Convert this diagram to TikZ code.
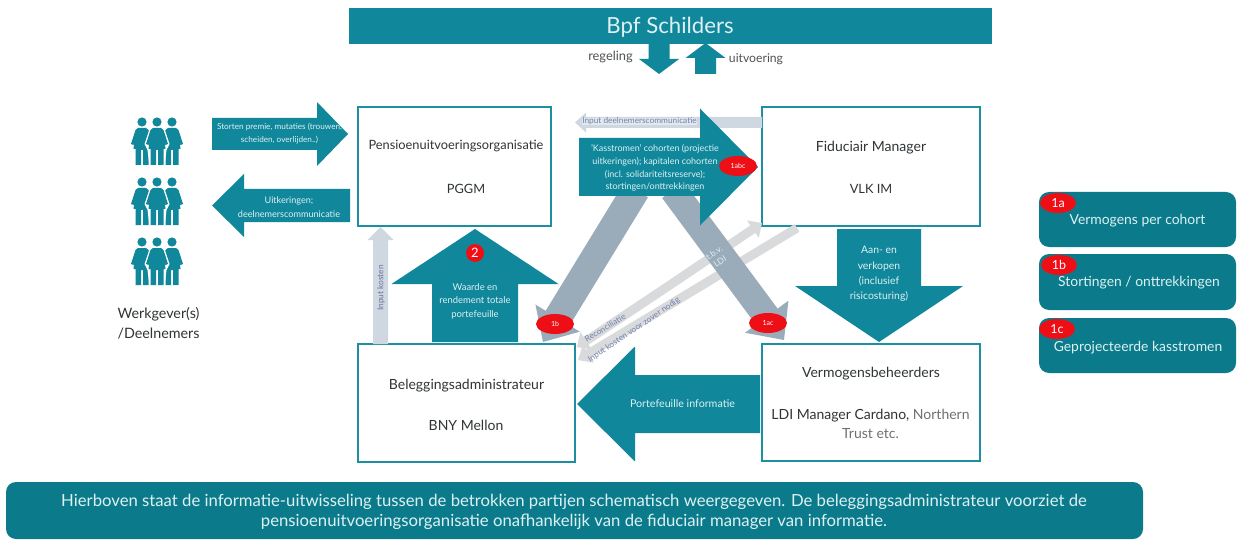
\documentclass[tikz,border=0pt]{standalone}
\usepackage{fontspec}
\setmainfont{Lato}
\usetikzlibrary{calc,shapes.geometric}
\definecolor{tealb}{HTML}{10879B}
\definecolor{tealr}{HTML}{0B7B8C}
\definecolor{boxline}{HTML}{1C8FA3}
\definecolor{greyb}{HTML}{9AACB9}
\definecolor{greyl}{HTML}{D9DADB}
\definecolor{greyc}{HTML}{CFD8E0}
\definecolor{labelblue}{HTML}{7380AE}
\definecolor{paletxt}{HTML}{DDF1F3}
\definecolor{darktxt}{HTML}{2F3436}
\definecolor{redb}{HTML}{EE0F16}
\newcommand{\blockarrow}[6]{%
  \coordinate (ba-neck) at ($(#2)!#5pt!(#1)$);
  \fill[#6] ($(#1)!#3pt!90:(#2)$) -- ($(ba-neck)!#3pt!90:(#2)$) -- ($(ba-neck)!#4pt!90:(#2)$) -- (#2)
    -- ($(ba-neck)!#4pt!-90:(#2)$) -- ($(ba-neck)!#3pt!-90:(#2)$) -- ($(#1)!#3pt!-90:(#2)$) -- cycle;
}
\tikzset{
  box/.style={draw=boxline,line width=1.8pt,fill=white,inner sep=0pt},
  boxtxt/.style={text=darktxt,font=\fontsize{14}{18}\selectfont,align=center,inner sep=0pt},
  arrowtxt/.style={text=paletxt,font=\fontsize{9.4}{13.5}\selectfont,align=center,inner sep=0pt},
  smalltxt/.style={text=paletxt,font=\fontsize{8.2}{13}\selectfont,align=center,inner sep=0pt},
  greytxt/.style={text=labelblue,font=\fontsize{8.3}{9}\selectfont,inner sep=0pt},
  redmark/.style={ellipse,fill=redb,inner sep=0pt,text=white,minimum width=38pt,minimum height=20pt,font=\fontsize{7}{8}\selectfont},
  redlegend/.style={ellipse,fill=redb,inner sep=0pt,text=white,minimum width=36pt,minimum height=20pt,font=\fontsize{12.5}{14}\selectfont},
  legend/.style={fill=tealr,rounded corners=10pt,inner sep=0pt,minimum width=197pt},
  legendtxt/.style={text=paletxt,font=\fontsize{13.9}{15}\selectfont,inner sep=0pt},
  woman/.pic={
    \fill (0,0) circle (4.6);
    \fill (-4,6) -- (4,6) -- (6.5,8) -- (11,22) -- (8.5,23) -- (7.5,18) -- (8.5,27) -- (6.5,27) -- (6.5,43) -- (1,43) -- (1,28) -- (-1,28) -- (-1,43) -- (-6.5,43) -- (-6.5,27) -- (-8.5,27) -- (-7.5,18) -- (-8.5,23) -- (-11,22) -- (-6.5,8) -- cycle;
  },
  womanfront/.pic={
    \fill[white] (-5,5) -- (5,5) -- (7.5,7) -- (12.5,22) -- (9.5,28) -- (7.5,44) -- (-7.5,44) -- (-9.5,28) -- (-12.5,22) -- (-7.5,7) -- cycle;
    \pic[tealb] {woman};
  },
}
\begin{document}
\begin{tikzpicture}[x=1pt,y=-1pt]
\useasboundingbox (0,0) rectangle (1247,540);
\fill[white] (0,0) rectangle (1247,540);

% top bar
\node[fill=tealb,minimum width=643pt,minimum height=36pt,inner sep=0pt] (bpf) at (670.5,26) {};
\node[text=paletxt,font=\fontsize{22.2}{24}\selectfont,inner sep=0pt] (bpft) at (670,27.5) {Bpf Schilders};
\coordinate (regA) at (659,44); \coordinate (regB) at (659,74);
\blockarrow{regA}{regB}{10.5}{20}{15}{tealb}
\coordinate (uitA) at (705.5,74); \coordinate (uitB) at (705.5,43);
\blockarrow{uitA}{uitB}{10.5}{20}{15}{tealb}
\node[text=darktxt!85,font=\fontsize{12.8}{14}\selectfont,inner sep=0pt] (reg) at (610.5,57) {regeling};
\node[text=darktxt!85,font=\fontsize{12.2}{14}\selectfont,inner sep=0pt] (uit) at (756,59) {uitvoering};

% boxes
\node[box,minimum width=193pt,minimum height=119pt] (pgo) at (454.5,166.5) {};
\node[box,minimum width=218pt,minimum height=119pt] (fid) at (871,166.5) {};
\node[box,minimum width=217pt,minimum height=118pt] (bel) at (466.5,403) {};
\node[box,minimum width=218pt,minimum height=117pt] (ver) at (871,402.5) {};
\node[boxtxt,font=\fontsize{12.8}{18}\selectfont] (pgot) at (456,145.5) {Pensioenuitvoeringsorganisatie};
\node[boxtxt,font=\fontsize{12.8}{18}\selectfont] (pgoc) at (466,189) {PGGM};
\node[boxtxt] (fidt) at (871,148) {Fiduciair Manager};
\node[boxtxt,font=\fontsize{12.8}{18}\selectfont] (fidc) at (871,188.5) {VLK IM};
\node[boxtxt] (belt) at (466.5,386) {Beleggingsadministrateur};
\node[boxtxt] (belc) at (466,425.5) {BNY Mellon};
\node[boxtxt] (vert) at (871,374) {Vermogensbeheerders};
\node[boxtxt,font=\fontsize{14}{19}\selectfont] (verc) at (870.5,424) {LDI Manager Cardano, \textcolor{darktxt!70}{Northern}\\\textcolor{darktxt!70}{Trust etc.}};

% light arrows (behind)
\coordinate (inpA) at (762,122.5); \coordinate (inpB) at (575,122.5);
\blockarrow{inpA}{inpB}{5.5}{10}{11}{greyc}
\coordinate (ikA) at (380.5,344); \coordinate (ikB) at (380.5,227);
\blockarrow{ikA}{ikB}{7.5}{13}{13}{greyc}
\coordinate (recM) at (670,285); \coordinate (recA) at (577,347); \coordinate (recB) at (762,223);
\blockarrow{recM}{recA}{4.5}{10.5}{11}{greyl}
\blockarrow{recM}{recB}{4.5}{10.5}{11}{greyl}
\coordinate (kosA) at (797,228); \coordinate (kosB) at (578,360);
\blockarrow{kosA}{kosB}{4.5}{10.5}{12}{greyl}

% grey arrows
\coordinate (g1A) at (636,190); \coordinate (g1B) at (543,342);
\blockarrow{g1A}{g1B}{14}{26}{28}{greyb}
\coordinate (g2A) at (673,190); \coordinate (g2B) at (784,340);
\blockarrow{g2A}{g2B}{13.5}{27}{29}{greyb}

% teal arrows
\coordinate (kasA) at (579,167); \coordinate (kasB) at (758,167);
\blockarrow{kasA}{kasB}{29}{58.5}{58}{tealb}
\coordinate (stA) at (212,134); \coordinate (stB) at (348,134);
\blockarrow{stA}{stB}{16}{32}{31}{tealb}
\coordinate (uiA) at (350,205.5); \coordinate (uiB) at (212,205.5);
\blockarrow{uiA}{uiB}{16.5}{31.5}{32}{tealb}
\coordinate (waA) at (475,342); \coordinate (waB) at (475,229);
\blockarrow{waA}{waB}{43}{83.5}{55}{tealb}
\coordinate (aaA) at (879,229); \coordinate (aaB) at (879,342);
\blockarrow{aaA}{aaB}{42}{84}{56}{tealb}
\coordinate (poA) at (760,404); \coordinate (poB) at (577,404);
\blockarrow{poA}{poB}{29}{57.5}{58}{tealb}

% arrow labels
\node[greytxt,fill=greyc!60] (inpt) at (639.5,121.5) {Input deelnemerscommunicatie};
\node[greytxt,rotate=90,text=labelblue!90!black] (ikt) at (381,288) {Input kosten};
\node[greytxt,rotate=31] (rect) at (605,328) {Reconciliatie};
\node[greytxt,rotate=34] (kost) at (634,330) {Input kosten voor zover nodig};
\node[smalltxt,rotate=33,font=\fontsize{8.5}{10.5}\selectfont] (tbv) at (717,257) {t.b.v.\\LDI};
\node[smalltxt,font=\fontsize{9}{12.7}\selectfont] (kast) at (655,168) {'Kasstromen' cohorten (projectie\\uitkeringen); kapitalen cohorten\\(incl. solidariteitsreserve);\\stortingen/onttrekkingen};
\node[smalltxt] (stt) at (279.5,134) {Storten premie, mutaties (trouwen,\\scheiden, overlijden..)};
\node[smalltxt,font=\fontsize{9.1}{14}\selectfont] (uit2) at (289,207) {Uitkeringen;\\deelnemerscommunicatie};
\node[arrowtxt] (wat) at (475,301) {Waarde en\\rendement totale\\portefeuille};
\node[arrowtxt,font=\fontsize{10.4}{15.4}\selectfont] (aat) at (879,274) {Aan- en\\verkopen\\(inclusief\\risicosturing)};
\node[arrowtxt,font=\fontsize{10.7}{12}\selectfont] (pot) at (682.5,403.5) {Portefeuille informatie};

% red marks
\node[redmark] (m1abc) at (738,166) {1abc};
\node[redmark] (m1b) at (555,324) {1b};
\node[redmark] (m1ac) at (768,323) {1ac};
\node[circle,fill=redb,text=white,minimum size=18pt,inner sep=0pt,font=\fontsize{13}{14}\selectfont] (m2) at (475,253) {2};

% people
\foreach \yy in {122,182,242}{
  \pic[tealb] at (142,\yy) {woman};
  \pic[tealb] at (172,\yy) {woman};
  \pic at (157,\yy) {womanfront};
}
\node[boxtxt,font=\fontsize{14.3}{20}\selectfont,align=left] (wk) at (158.5,323) {Werkgever(s)\\/Deelnemers};

% legend
\node[legend,minimum height=55pt] (l1) at (1137.5,219.5) {};
\node[legend,minimum height=56pt] (l2) at (1137.5,282) {};
\node[legend,minimum height=55pt] (l3) at (1137.5,345.5) {};
\node[legendtxt] (l1t) at (1137.5,221) {Vermogens per cohort};
\node[legendtxt] (l2t) at (1139,283) {Stortingen / onttrekkingen};
\node[legendtxt] (l3t) at (1138,348) {Geprojecteerde kasstromen};
\node[redlegend] (r1a) at (1058,203) {1a};
\node[redlegend] (r1b) at (1059,265) {1b};
\node[redlegend] (r1c) at (1057,329) {1c};

% bottom bar
\node[fill=tealr,rounded corners=10pt,minimum width=1137pt,minimum height=57pt,inner sep=0pt] (bot) at (574.5,510.5) {};
\node[text=paletxt,font=\fontsize{16.7}{20}\selectfont,align=center,inner sep=0pt] (bott) at (574,512) {Hierboven staat de informatie-uitwisseling tussen de betrokken partijen schematisch weergegeven. De beleggingsadministrateur voorziet de\\pensioenuitvoeringsorganisatie onafhankelijk van de fiduciair manager van informatie.};
\end{tikzpicture}
\end{document}
